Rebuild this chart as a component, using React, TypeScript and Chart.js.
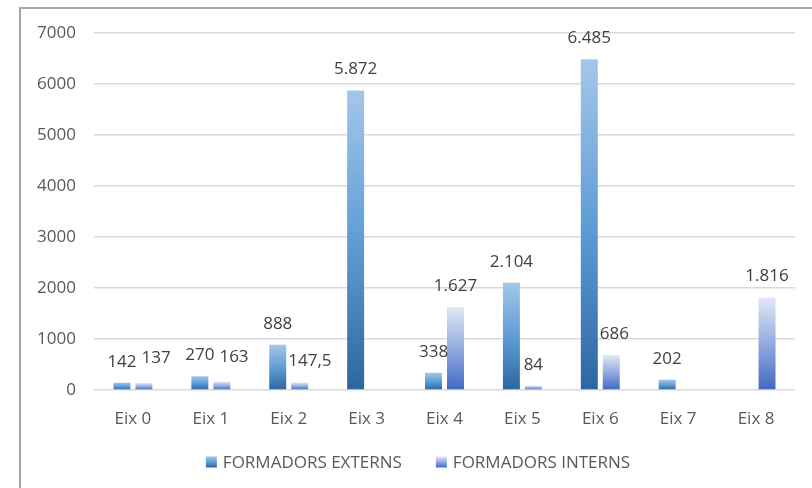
import React, { useEffect, useRef } from "react";
import { Chart, registerables } from "chart.js";

Chart.register(...registerables);

const categories = ["Eix 0", "Eix 1", "Eix 2", "Eix 3", "Eix 4", "Eix 5", "Eix 6", "Eix 7", "Eix 8"];
const externs: (number | null)[] = [142, 270, 888, 5872, 338, 2104, 6485, 202, null];
const interns: (number | null)[] = [137, 163, 147.5, null, 1627, 84, 686, null, 1816];
const seriesNames = ["FORMADORS EXTERNS", "FORMADORS INTERNS"];
const yMax = 7000;
const yStep = 1000;

const FONT = "'Open Sans', 'Noto Sans', sans-serif";

const externStops: [number, string][] = [
  [0, "#a3c7e9"],
  [0.5, "#609dd6"],
  [1, "#2c66a1"],
];
const internStops: [number, string][] = [
  [0, "#e2e8f5"],
  [0.5, "#93abdf"],
  [1, "#4268c2"],
];

function fmt(v: number): string {
  const [i, d] = String(v).split(".");
  const ii = i.replace(/\B(?=(\d{3})+(?!\d))/g, ".");
  return d ? ii + "," + d : ii;
}

function grad(ctx: CanvasRenderingContext2D, top: number, bottom: number, stops: [number, string][]) {
  const g = ctx.createLinearGradient(0, top, 0, bottom);
  stops.forEach(([o, c]) => g.addColorStop(o, c));
  return g;
}

function barFill(stops: [number, string][]) {
  return (c: any) => {
    const chart = c.chart;
    const y = chart.scales?.y;
    if (!chart.chartArea || !y || c.type !== "data") return stops[1][1];
    const v = c.raw;
    if (v == null) return "rgba(0,0,0,0)";
    const top = y.getPixelForValue(v);
    const bottom = y.getPixelForValue(0);
    return grad(chart.ctx, top, bottom, stops);
  };
}

const labelsPlugin = {
  id: "valueLabels",
  afterDatasetsDraw(chart: any) {
    const ctx = chart.ctx as CanvasRenderingContext2D;
    ctx.save();
    ctx.font = `17px ${FONT}`;
    ctx.fillStyle = "#404040";
    ctx.textAlign = "center";
    ctx.textBaseline = "middle";
    const half = 8;
    const m0 = chart.getDatasetMeta(0);
    const m1 = chart.getDatasetMeta(1);
    categories.forEach((_, i) => {
      const a = chart.data.datasets[0].data[i];
      const b = chart.data.datasets[1].data[i];
      let aRight = -Infinity;
      let aTopY = Infinity;
      let aBottomY = -Infinity;
      if (a != null) {
        const bar = m0.data[i];
        const t = fmt(a);
        const w = ctx.measureText(t).width;
        const cy = bar.y - 21;
        ctx.fillText(t, bar.x, cy);
        aRight = bar.x + w / 2;
        aTopY = cy - half;
        aBottomY = cy + half;
      }
      if (b != null) {
        const bar = m1.data[i];
        const t = fmt(b);
        const w = ctx.measureText(t).width;
        let cy = bar.y - 21;
        let cx = bar.x;
        let minLeft = -Infinity;
        if (cy - half < aBottomY && cy + half > aTopY) {
          minLeft = Math.max(minLeft, aRight + 5);
          cy -= 4;
        }
        if (a != null) {
          const ob = m0.data[i];
          if (cy + half > ob.y) minLeft = Math.max(minLeft, ob.x + ob.width / 2 + 2);
        }
        if (cx - w / 2 < minLeft) cx = minLeft + w / 2;
        ctx.fillText(t, cx, cy);
      }
    });
    ctx.restore();
  },
};

const legendPlugin = {
  id: "customLegend",
  afterDraw(chart: any) {
    const ctx = chart.ctx as CanvasRenderingContext2D;
    ctx.save();
    ctx.font = `17px ${FONT}`;
    ctx.textBaseline = "middle";
    ctx.textAlign = "left";
    const box = 11;
    const gapText = 6;
    const gapItem = 34;
    const widths = seriesNames.map((n) => ctx.measureText(n).width);
    const total = widths.reduce((a, w) => a + box + gapText + w, 0) + gapItem * (seriesNames.length - 1);
    const center = 418;
    const cy = 462;
    let x = center - total / 2;
    seriesNames.forEach((n, i) => {
      const stops = i === 0 ? externStops : internStops;
      ctx.fillStyle = grad(ctx, cy - box / 2, cy + box / 2, stops);
      ctx.fillRect(x, cy - box / 2, box, box);
      x += box + gapText;
      ctx.fillStyle = "#595959";
      ctx.fillText(n, x, cy + 1);
      x += widths[i] + gapItem;
    });
    ctx.restore();
  },
};

export default function App() {
  const ref = useRef<HTMLCanvasElement | null>(null);
  useEffect(() => {
    if (!ref.current) return;
    const chart = new Chart(ref.current, {
      type: "bar",
      data: {
        labels: categories,
        datasets: [
          {
            label: seriesNames[0],
            data: externs,
            backgroundColor: barFill(externStops),
            categoryPercentage: 0.564,
            barPercentage: 0.773,
          },
          {
            label: seriesNames[1],
            data: interns,
            backgroundColor: barFill(internStops),
            categoryPercentage: 0.564,
            barPercentage: 0.773,
          },
        ],
      },
      options: {
        responsive: false,
        animation: false,
        layout: { padding: { left: 0, right: 17, top: 33, bottom: 58 } },
        plugins: {
          legend: { display: false },
          tooltip: { enabled: false },
        },
        scales: {
          x: {
            grid: { display: false, drawTicks: false },
            border: { display: false },
            ticks: {
              color: "#595959",
              font: { family: FONT, size: 17 },
              padding: 19,
            },
            afterFit(scale: any) {
              scale.height = 40;
            },
          },
          y: {
            min: 0,
            max: yMax,
            grid: { color: "#d9d9d9", lineWidth: 1.5, drawTicks: false },
            border: { display: false },
            ticks: {
              stepSize: yStep,
              color: "#595959",
              font: { family: FONT, size: 17 },
              padding: 18,
              callback: (v: any) => String(v),
            },
            afterFit(scale: any) {
              scale.width = 94;
            },
          },
        },
      },
      plugins: [labelsPlugin, legendPlugin],
    });
    return () => chart.destroy();
  }, []);

  return (
    <div style={{ position: "fixed", left: 0, top: 0, width: 812, height: 488, overflow: "hidden", background: "#fff" }}>
      <div
        style={{
          position: "absolute",
          left: 19,
          top: 7,
          right: -20,
          bottom: -20,
          borderLeft: "2px solid #a6a6a6",
          borderTop: "2px solid #a6a6a6",
        }}
      />
      <canvas ref={ref} width={812} height={488} style={{ position: "absolute", left: 0, top: 0 }} />
    </div>
  );
}
